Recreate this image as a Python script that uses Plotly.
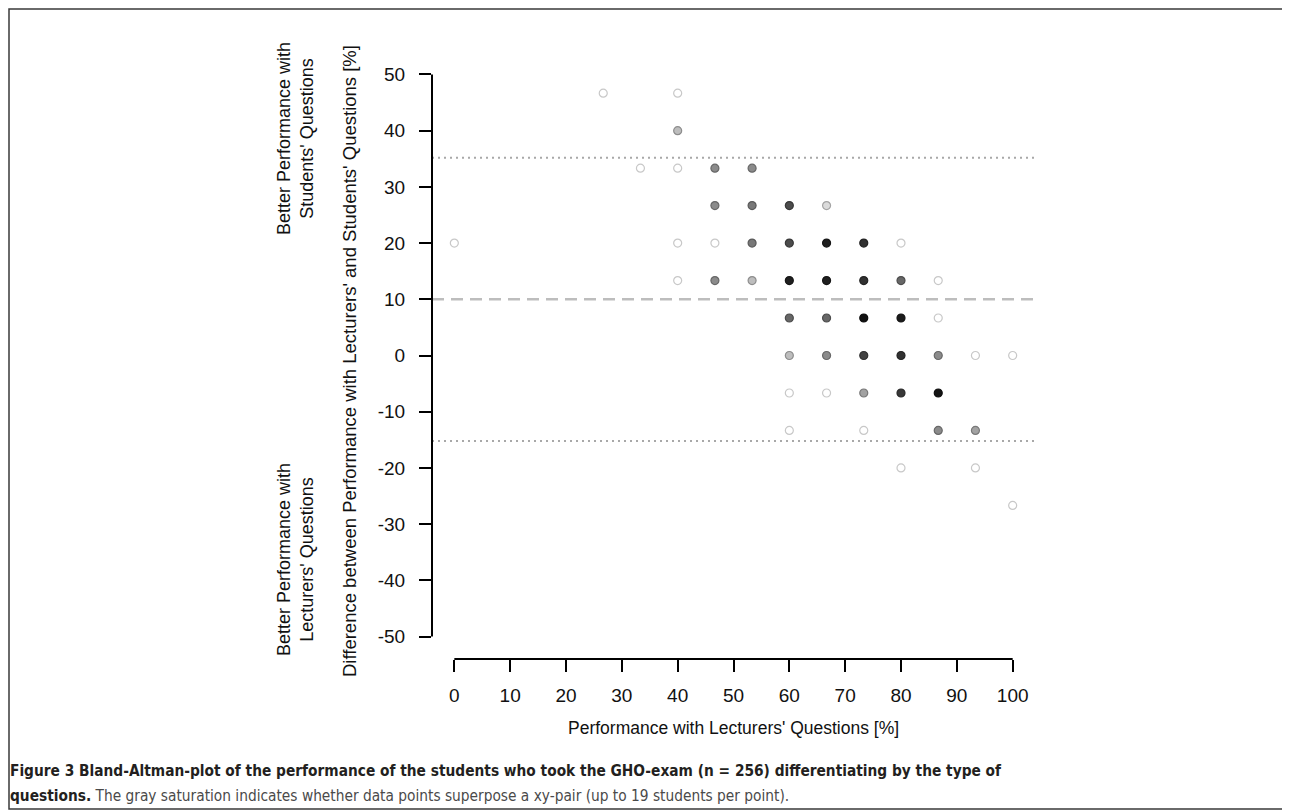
import plotly.graph_objects as go

# ---------------- data ----------------
x_lect = [26.67, 40.00,
          40.00,
          33.33, 40.00, 46.67, 53.33,
          46.67, 53.33, 60.00, 66.67,
          0.00, 40.00, 46.67, 53.33, 60.00, 66.67, 73.33, 80.00,
          40.00, 46.67, 53.33, 60.00, 66.67, 73.33, 80.00, 86.67,
          60.00, 66.67, 73.33, 80.00, 86.67,
          60.00, 66.67, 73.33, 80.00, 86.67, 93.33, 100.00,
          60.00, 66.67, 73.33, 80.00, 86.67,
          60.00, 73.33, 86.67, 93.33,
          80.00, 93.33,
          100.00]
y_diff = [46.67, 46.67,
          40.00,
          33.33, 33.33, 33.33, 33.33,
          26.67, 26.67, 26.67, 26.67,
          20.00, 20.00, 20.00, 20.00, 20.00, 20.00, 20.00, 20.00,
          13.33, 13.33, 13.33, 13.33, 13.33, 13.33, 13.33, 13.33,
          6.67, 6.67, 6.67, 6.67, 6.67,
          0.00, 0.00, 0.00, 0.00, 0.00, 0.00, 0.00,
          -6.67, -6.67, -6.67, -6.67, -6.67,
          -13.33, -13.33, -13.33, -13.33,
          -20.00, -20.00,
          -26.67]
n_students = [1, 1,
              3,
              1, 1, 5, 5,
              5, 6, 9, 2,
              1, 1, 1, 6, 9, 15, 12, 1,
              1, 5, 3, 15, 15, 12, 7, 1,
              7, 7, 19, 16, 1,
              3, 5, 10, 12, 5, 1, 1,
              1, 1, 4, 11, 18,
              1, 1, 5, 4,
              1, 1,
              1]

mean_diff = 10.0
upper_loa = 35.2
lower_loa = -15.2

x_ticks = [0, 10, 20, 30, 40, 50, 60, 70, 80, 90, 100]
y_ticks = [50, 40, 30, 20, 10, 0, -10, -20, -30, -40, -50]

x_title = "Performance with Lecturers' Questions [%]"
y_title = "Difference between Performance with Lecturers' and Students' Questions [%]"
upper_note = "Better Performance with<br>Students' Questions"
lower_note = "Better Performance with<br>Lecturers' Questions"
caption_bold_1 = ("Figure 3 Bland-Altman-plot of the performance of the students who took the "
                  "GHO-exam (n = 256) differentiating by the type of")
caption_bold_2 = "questions."
caption_regular = (" The gray saturation indicates whether data points superpose a xy-pair "
                   "(up to 19 students per point).")

# ---------------- layout geometry (page body has an 8px margin) ----------------
OFF = 8
W, H = 1290 - OFF, 811 - OFF
ML, MR, MT, MB = 432 - OFF, 255, 52 - OFF, 152
PW, PH = W - ML - MR, H - MT - MB


def px_x(p):
    """screen pixel x -> paper coordinate"""
    return (p - OFF - ML) / PW


def px_y(p):
    """screen pixel y -> paper coordinate"""
    return (H - MB - (p - OFF)) / PH


def shade(n):
    return int(round(255 * (1 - 0.14) ** (n - 1)))


fills, lines = [], []
for n in n_students:
    if n <= 1:
        fills.append("rgb(255,255,255)")
        lines.append("rgb(200,200,200)")
    else:
        g = shade(n)
        fills.append(f"rgb({g},{g},{g})")
        lg = int(g * 0.75)
        lines.append(f"rgb({lg},{lg},{lg})")

FONT = "Liberation Sans, Arial, sans-serif"
CAPFONT = "DejaVu Sans Condensed, Liberation Sans Narrow, sans-serif"

fig = go.Figure()
fig.add_trace(go.Scatter(
    x=x_lect, y=y_diff, mode="markers",
    marker=dict(size=8, color=fills, line=dict(color=lines, width=1.2)),
    customdata=n_students,
    hovertemplate="x=%{x}<br>y=%{y}<br>n=%{customdata}<extra></extra>",
    showlegend=False,
))

shapes = [
    dict(type="line", xref="paper", yref="y", x0=0, x1=1, y0=mean_diff, y1=mean_diff,
         line=dict(color="#bdbdbd", width=2.5, dash="12px,7px"), layer="below"),
    dict(type="line", xref="paper", yref="y", x0=0, x1=1, y0=upper_loa, y1=upper_loa,
         line=dict(color="#a8a8a8", width=2, dash="2px,4px"), layer="below"),
    dict(type="line", xref="paper", yref="y", x0=0, x1=1, y0=lower_loa, y1=lower_loa,
         line=dict(color="#a8a8a8", width=2, dash="2px,4px"), layer="below"),
    # R-style detached axis lines
    dict(type="line", xref="paper", yref="y", x0=0, x1=0, y0=min(y_ticks), y1=max(y_ticks),
         line=dict(color="black", width=2)),
    dict(type="line", xref="x", yref="paper", x0=min(x_ticks), x1=max(x_ticks), y0=0, y1=0,
         line=dict(color="black", width=2)),
]

# figure frame with a rounded top-right corner
fx0, fx1 = px_x(9), px_x(1288)
fy0, fy1 = px_y(809), px_y(9)
rx, ry = 6 / PW, 6 / PH
frame_path = (f"M {fx0},{fy1} L {fx1 - rx},{fy1} Q {fx1},{fy1} {fx1},{fy1 - ry} "
              f"L {fx1},{fy0} L {fx0},{fy0} Z")
shapes.append(dict(type="path", xref="paper", yref="paper", path=frame_path,
                   line=dict(color="#3a3a3a", width=1.5)))

annotations = [
    dict(text=y_title, xref="paper", yref="paper", x=px_x(349), y=px_y(361),
         textangle=-90, showarrow=False, xanchor="center", yanchor="middle",
         font=dict(family=FONT, size=18.5, color="#111")),
    dict(text=upper_note, xref="paper", yref="paper", x=px_x(295), y=px_y(139),
         textangle=-90, showarrow=False, xanchor="center", yanchor="middle",
         font=dict(family=FONT, size=18, color="#111")),
    dict(text=lower_note, xref="paper", yref="paper", x=px_x(295), y=px_y(560),
         textangle=-90, showarrow=False, xanchor="center", yanchor="middle",
         font=dict(family=FONT, size=18, color="#111")),
    dict(text=x_title, xref="x", yref="paper", x=(min(x_ticks) + max(x_ticks)) / 2, y=px_y(728),
         showarrow=False, xanchor="center", yanchor="middle",
         font=dict(family=FONT, size=17.5, color="#111")),
    dict(text="<b>" + caption_bold_1 + "</b>", xref="paper", yref="paper",
         x=px_x(8), y=px_y(771), showarrow=False, xanchor="left", yanchor="middle",
         font=dict(family=CAPFONT, size=15.3, color="#231f20")),
    dict(text="<b>" + caption_bold_2 + "</b>"
              + "<span style='color:#4a4a4a'>" + caption_regular + "</span>",
         xref="paper", yref="paper",
         x=px_x(8), y=px_y(796), showarrow=False, xanchor="left", yanchor="middle",
         font=dict(family=CAPFONT, size=15.3, color="#231f20")),
]

fig.update_layout(
    width=W, height=H,
    margin=dict(l=ML, r=MR, t=MT, b=MB, pad=0),
    paper_bgcolor="white", plot_bgcolor="white",
    shapes=shapes, annotations=annotations,
    xaxis=dict(range=[-4, 104], tickvals=x_ticks, ticktext=[str(v) for v in x_ticks],
               showgrid=False, zeroline=False, showline=False,
               ticks="outside", ticklen=12, tickwidth=2, tickcolor="black",
               ticklabelstandoff=7,
               tickfont=dict(family=FONT, size=19, color="#111")),
    yaxis=dict(range=[-54, 54], tickvals=y_ticks, ticktext=[str(v) for v in y_ticks],
               showgrid=False, zeroline=False, showline=False,
               ticks="outside", ticklen=12, tickwidth=2, tickcolor="black",
               ticklabelstandoff=10,
               tickfont=dict(family=FONT, size=19, color="#111")),
)

fig.write_html("out.html")
